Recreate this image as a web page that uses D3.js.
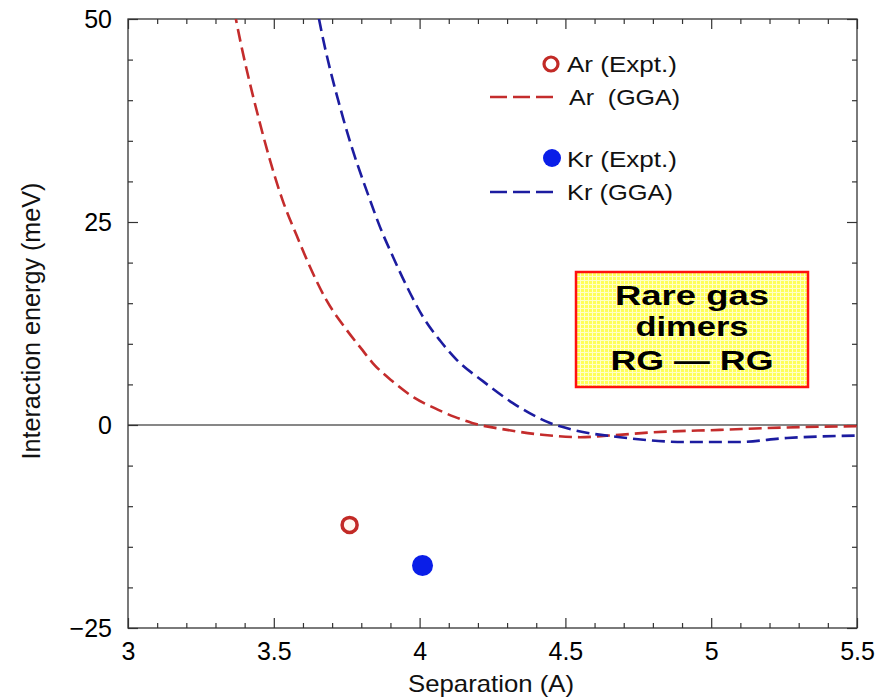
<!DOCTYPE html>
<html>
<head>
<meta charset="utf-8">
<script src="https://cdn.jsdelivr.net/npm/d3@7"></script>
<style>
  html, body { margin: 0; padding: 0; background: #fff; }
  svg { display: block; }
  text { font-family: "Liberation Sans", Arial, Helvetica, sans-serif; }
</style>
</head>
<body>
<svg id="chart" width="887" height="698"></svg>
<script>
// ---- data ----
const arGGA_x = [3.33, 3.37, 3.45, 3.53, 3.58, 3.62, 3.68, 3.75, 3.80, 3.84, 3.91, 3.98, 4.05, 4.12, 4.18, 4.30, 4.42, 4.55, 4.65, 4.80, 5.03, 5.26, 5.50];
const arGGA_y = [58, 50, 37.5, 27.7, 23.2, 19.8, 15.4, 11.7, 9.4, 7.6, 5.3, 3.4, 2.1, 1.0, 0.25, -0.6, -1.2, -1.5, -1.3, -0.9, -0.6, -0.3, -0.15];
const krGGA_x = [3.62, 3.655, 3.74, 3.83, 3.864, 3.909, 3.957, 4.012, 4.07, 4.128, 4.217, 4.32, 4.447, 4.526, 4.687, 4.917, 5.088, 5.26, 5.50];
const krGGA_y = [57, 50, 37.5, 27.7, 24.4, 20.7, 17.0, 13.3, 10.4, 8.0, 5.4, 2.7, 0.25, -0.6, -1.5, -2.1, -2.1, -1.6, -1.3];
const expt_names = ["Ar", "Kr"];
const expt_x = [3.76, 4.01];
const expt_y = [-12.3, -17.3];
const xMajorTicks = [3, 3.5, 4, 4.5, 5, 5.5];
const xTickLabels = ["3", "3.5", "4", "4.5", "5", "5.5"];
const xMinorTicks = [3.1,3.2,3.3,3.4,3.6,3.7,3.8,3.9,4.1,4.2,4.3,4.4,4.6,4.7,4.8,4.9,5.1,5.2,5.3,5.4];
const yMajorTicks = [-25, 0, 25, 50];
const yTickLabels = ["\u221225", "0", "25", "50"];
const yMinorTicks = [-20,-15,-10,-5,5,10,15,20,30,35,40,45];
const legendLabels = ["Ar (Expt.)", "Ar  (GGA)", "Kr (Expt.)", "Kr (GGA)"];
const boxLines = ["Rare gas", "dimers", "RG \u2014 RG"];

// ---- layout ----
const L = 128, R = 857, T = 19, B = 628;
const x = d3.scaleLinear().domain([3, 5.5]).range([L, R]);
const y = d3.scaleLinear().domain([-25, 50]).range([B, T]);

const svg = d3.select("#chart");
const RED = "#c42c2c", BLUE = "#1c1ca0";

const defs = svg.append("defs");
defs.append("clipPath").attr("id", "plotclip")
  .append("rect").attr("x", L).attr("y", T).attr("width", R - L).attr("height", B - T);
const pat = defs.append("pattern").attr("id", "grid").attr("patternUnits", "userSpaceOnUse")
  .attr("width", 4).attr("height", 4);
pat.append("rect").attr("width", 4).attr("height", 4).attr("fill", "#ffff58");
pat.append("path").attr("d", "M0,0.5H4M0.5,0V4").attr("stroke", "#ffffc8").attr("stroke-width", 1);

// zero line
svg.append("line").attr("x1", L).attr("x2", R).attr("y1", y(0)).attr("y2", y(0))
  .attr("stroke", "#111").attr("stroke-width", 1.2);

// axes (inward ticks on all four sides)
function styleAxis(g) {
  g.select(".domain").remove();
  g.selectAll(".tick line").attr("stroke", "#333").attr("stroke-width", 1.2);
  g.selectAll(".tick text").attr("fill", "#000").attr("font-size", 25)
    .style("font-family", '"Liberation Sans", Arial, sans-serif');
}
svg.append("g").attr("transform", `translate(0,${B})`)
  .call(d3.axisBottom(x).tickValues(xMinorTicks).tickSize(-5).tickFormat("")).call(styleAxis);
svg.append("g").attr("transform", `translate(0,${B})`)
  .call(d3.axisBottom(x).tickValues(xMajorTicks).tickSize(-10).tickPadding(14)
    .tickFormat((d, i) => xTickLabels[i])).call(styleAxis);
svg.append("g").attr("transform", `translate(0,${T})`)
  .call(d3.axisTop(x).tickValues(xMinorTicks).tickSize(-5).tickFormat("")).call(styleAxis);
svg.append("g").attr("transform", `translate(0,${T})`)
  .call(d3.axisTop(x).tickValues(xMajorTicks).tickSize(-10).tickFormat("")).call(styleAxis);
svg.append("g").attr("transform", `translate(${L},0)`)
  .call(d3.axisLeft(y).tickValues(yMinorTicks).tickSize(-5).tickFormat("")).call(styleAxis);
svg.append("g").attr("transform", `translate(${L},0)`)
  .call(d3.axisLeft(y).tickValues(yMajorTicks).tickSize(-10).tickPadding(16)
    .tickFormat((d, i) => yTickLabels[i])).call(styleAxis);
svg.append("g").attr("transform", `translate(${R},0)`)
  .call(d3.axisRight(y).tickValues(yMinorTicks).tickSize(-5).tickFormat("")).call(styleAxis);
svg.append("g").attr("transform", `translate(${R},0)`)
  .call(d3.axisRight(y).tickValues(yMajorTicks).tickSize(-10).tickFormat("")).call(styleAxis);

// frame
svg.append("rect").attr("x", L).attr("y", T).attr("width", R - L).attr("height", B - T)
  .attr("fill", "none").attr("stroke", "#333").attr("stroke-width", 1.3);

// axis titles
svg.append("text").attr("x", 491).attr("y", 692).attr("text-anchor", "middle")
  .attr("font-size", 24).attr("fill", "#111")
  .attr("textLength", 166).attr("lengthAdjust", "spacingAndGlyphs").text("Separation (A)");
svg.append("text").attr("transform", `translate(40,${321}) rotate(-90)`).attr("text-anchor", "middle")
  .attr("font-size", 25).attr("fill", "#111")
  .attr("textLength", 277).attr("lengthAdjust", "spacingAndGlyphs").text("Interaction energy (meV)");

// curves
const line = d3.line().x(d => x(d[0])).y(d => y(d[1])).curve(d3.curveMonotoneX);
const plot = svg.append("g").attr("clip-path", "url(#plotclip)");
plot.append("path").datum(d3.zip(arGGA_x, arGGA_y)).attr("d", line)
  .attr("fill", "none").attr("stroke", RED).attr("stroke-width", 2.6).attr("stroke-dasharray", "13,6");
plot.append("path").datum(d3.zip(krGGA_x, krGGA_y)).attr("d", line)
  .attr("fill", "none").attr("stroke", BLUE).attr("stroke-width", 2.6).attr("stroke-dasharray", "13,6");

// experimental points
plot.append("circle").attr("cx", x(expt_x[0])).attr("cy", y(expt_y[0])).attr("r", 7.5)
  .attr("fill", "#fff8f0").attr("stroke", "#c22a26").attr("stroke-width", 3.5);
plot.append("circle").attr("cx", x(expt_x[1])).attr("cy", y(expt_y[1])).attr("r", 10.5)
  .attr("fill", "#0a1ee8");

// legend
const lg = svg.append("g");
lg.append("circle").attr("cx", 551).attr("cy", 64).attr("r", 7)
  .attr("fill", "#fff").attr("stroke", "#c22a26").attr("stroke-width", 3.2);
lg.append("line").attr("x1", 490).attr("x2", 553).attr("y1", 97).attr("y2", 97)
  .attr("stroke", RED).attr("stroke-width", 2.6).attr("stroke-dasharray", "17,6");
lg.append("circle").attr("cx", 552).attr("cy", 158).attr("r", 9).attr("fill", "#0a1ee8");
lg.append("line").attr("x1", 490).attr("x2", 553).attr("y1", 192).attr("y2", 192)
  .attr("stroke", BLUE).attr("stroke-width", 2.6).attr("stroke-dasharray", "17,6");
const legPos = [[567, 72, 110], [569, 105, 111], [567, 167, 110], [567, 200, 106]];
legendLabels.forEach((t, i) => {
  lg.append("text").attr("x", legPos[i][0]).attr("y", legPos[i][1])
    .attr("font-size", 22).attr("fill", "#111")
    .attr("textLength", legPos[i][2]).attr("lengthAdjust", "spacingAndGlyphs")
    .style("white-space", "pre").text(t);
});

// annotation box
svg.append("rect").attr("x", 576).attr("y", 272).attr("width", 232).attr("height", 115)
  .attr("fill", "url(#grid)").attr("stroke", "#ff1010").attr("stroke-width", 2.5);
const boxPos = [[305, 154], [336, 113], [370, 163]];
boxLines.forEach((t, i) => {
  svg.append("text").attr("x", 692).attr("y", boxPos[i][0]).attr("text-anchor", "middle")
    .attr("font-size", 27).attr("font-weight", "bold").attr("fill", "#000")
    .attr("textLength", boxPos[i][1]).attr("lengthAdjust", "spacingAndGlyphs")
    .text(t);
});
</script>
</body>
</html>
